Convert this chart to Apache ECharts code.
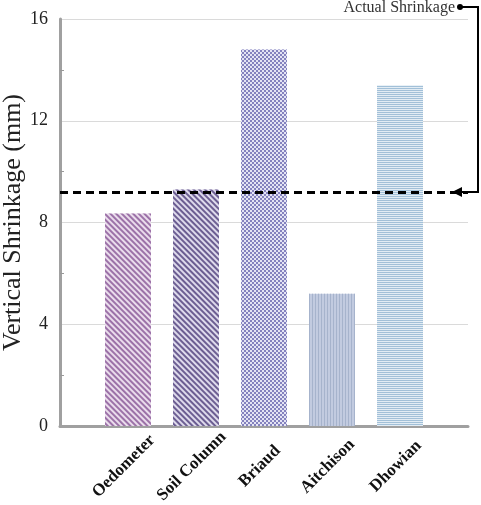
<!DOCTYPE html>
<html>
<head>
<meta charset="utf-8">
<script src="https://cdn.jsdelivr.net/npm/echarts@6/dist/echarts.min.js"></script>
<style>
  html, body { margin: 0; padding: 0; background: #fff; }
  #chart { width: 481px; height: 505px; }
</style>
</head>
<body>
<div id="chart"></div>
<script>
// data
var methods = ['', 'Oedometer', 'Soil Column', 'Briaud', 'Aitchison', 'Dhowian', ''];
var shrinkage = [null, 8.35, 9.3, 14.8, 5.2, 13.4, null];
var actualShrinkage = 9.2;
var yTicks = [0, 4, 8, 12, 16];

var serif = "'Liberation Serif', 'Times New Roman', serif";

// one hatch style per bar
var hatches = [
  null,
  { bg: '#eadcec', decal: { color: '#9c72a8', symbol: 'rect', symbolSize: 1, dashArrayX: [1, 0], dashArrayY: [2, 2], rotation: Math.PI / 4 } },
  { bg: '#dedaec', decal: { color: '#6c5e92', symbol: 'rect', symbolSize: 1, dashArrayX: [1, 0], dashArrayY: [2, 2], rotation: Math.PI / 4 } },
  { bg: '#e4e4f4', decal: { color: '#8482be', symbol: 'rect', symbolSize: 1, dashArrayX: [[2, 2], [0, 2, 2, 0]], dashArrayY: [2, 0], rotation: 0 } },
  { bg: '#c2cbe0', decal: { color: '#a6b3cc', symbol: 'rect', symbolSize: 1, dashArrayX: [1, 2], dashArrayY: [1, 0], rotation: 0 } },
  { bg: '#e2ecf4', decal: { color: '#a2c0d8', symbol: 'rect', symbolSize: 1, dashArrayX: [1, 0], dashArrayY: [1, 1], rotation: 0 } },
  null
];

var barData = shrinkage.map(function (v, i) {
  if (v === null) return null;
  return {
    value: v,
    itemStyle: { color: hatches[i].bg, decal: hatches[i].decal }
  };
});

var myChart = echarts.init(document.getElementById('chart'));

var option = {
  animation: false,
  grid: { left: 60, right: 13, top: 19, bottom: 79, containLabel: false, outerBoundsMode: 'none' },
  xAxis: {
    type: 'category',
    data: methods,
    boundaryGap: false,
    axisLine: { lineStyle: { color: '#a0a0a0', width: 3 } },
    axisTick: { show: false },
    axisLabel: {
      interval: 0,
      rotate: 45,
      margin: 36,
      align: 'center',
      verticalAlign: 'middle',
      padding: [0, 12, 20, 0],
      fontFamily: serif,
      fontWeight: 'bold',
      fontSize: 17,
      color: '#111'
    }
  },
  yAxis: {
    type: 'value',
    min: yTicks[0],
    max: yTicks[yTicks.length - 1],
    interval: 4,
    name: 'Vertical Shrinkage (mm)',
    nameLocation: 'middle',
    nameGap: 34,
    nameMoveOverlap: false,
    nameTextStyle: { fontFamily: serif, fontSize: 26, color: '#222' },
    axisLine: { show: true, lineStyle: { color: '#a0a0a0', width: 3 } },
    axisTick: { show: false, inside: true },
    minorTick: { show: true, splitNumber: 2, length: 4, lineStyle: { color: '#999', width: 1 } },
    axisLabel: { fontFamily: serif, fontSize: 18, color: '#222', margin: 12 },
    splitLine: { lineStyle: { color: '#dadada', width: 1 } }
  },
  series: [{
    type: 'bar',
    data: barData,
    barWidth: 46,
    markLine: {
      silent: true,
      symbol: 'none',
      label: { show: false },
      lineStyle: { color: '#000', width: 3, type: [8, 5] },
      data: [{ yAxis: actualShrinkage }]
    }
  }]
};

myChart.setOption(option);

// "Actual Shrinkage" call-out with bracket arrow to the dashed line
var yLine = myChart.convertToPixel({ yAxisIndex: 0 }, actualShrinkage);
myChart.setOption({
  graphic: [
    {
      type: 'text',
      right: 26, top: 0,
      style: { text: 'Actual Shrinkage', font: '16px ' + serif, fill: '#333' }
    },
    {
      type: 'circle',
      shape: { cx: 460, cy: 7, r: 3 },
      style: { fill: '#000' }
    },
    {
      type: 'polyline',
      shape: { points: [[460, 7], [478, 7], [478, yLine], [460, yLine]] },
      style: { stroke: '#000', lineWidth: 2, fill: null }
    },
    {
      type: 'polygon',
      shape: { points: [[452, yLine], [462, yLine - 5], [462, yLine + 5]] },
      style: { fill: '#000' }
    }
  ]
});
</script>
</body>
</html>
